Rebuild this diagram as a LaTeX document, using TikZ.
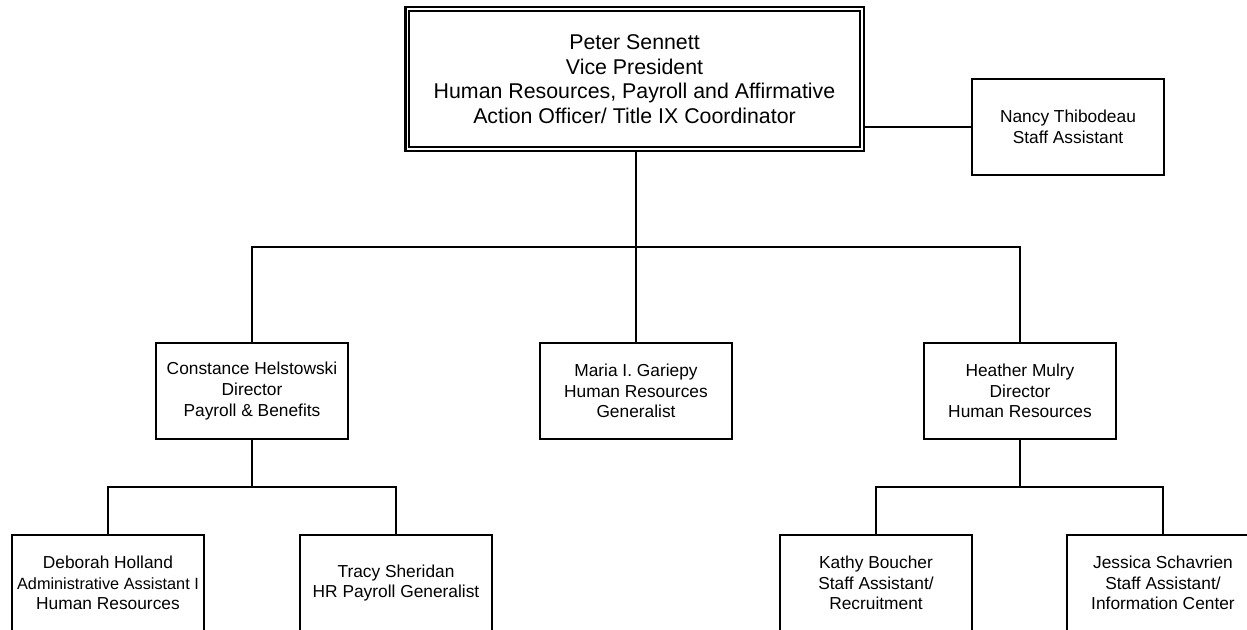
\documentclass[tikz,border=0pt]{standalone}
\usepackage{fontspec}
\setmainfont{Liberation Sans}
\begin{document}
\begin{tikzpicture}[x=0.75pt,y=-0.75pt,
  box/.style={draw=black,line width=1.5pt,rectangle,inner sep=0pt,
    minimum width=144pt,minimum height=72pt,align=center,
    font={\fontsize{13}{15.4}\selectfont}},
  topbox/.style={draw=black,line width=2pt,rectangle,inner sep=0pt,
    minimum width=344pt,minimum height=108pt,align=center,
    font={\fontsize{16}{18.4}\selectfont}},
  link/.style={draw=black,line width=1.5pt}]
\useasboundingbox (0,0) rectangle (1247,629);
\clip (0,0) rectangle (1247,629);
\fill[white] (0,0) rectangle (1247,629);

\node[topbox] (vp) at (634.5,79) {Peter Sennett\\Vice President\\Human Resources, Payroll and Affirmative\\Action Officer/ Title IX Coordinator};
\draw[line width=1.5pt] ([shift={(5,5)}]vp.north west) rectangle ([shift={(-5,-5)}]vp.south east);

\node[box] (nancy) at (1068,127) {Nancy Thibodeau\\Staff Assistant};
\node[box] (const) at (252,391) {Constance Helstowski\\Director\\Payroll \& Benefits};
\node[box] (maria) at (636,391) {Maria I. Gariepy\\Human Resources\\Generalist};
\node[box] (heather) at (1020,391) {Heather Mulry\\Director\\Human Resources};
\node[box] (deb) at (108,583) {Deborah Holland\\{\fontsize{12.2}{15}\selectfont Administrative Assistant I}\\Human Resources};
\node[box] (tracy) at (396,583) {Tracy Sheridan\\HR Payroll Generalist};
\node[box] (kathy) at (876,583) {Kathy Boucher\\Staff Assistant/\\Recruitment};
\node[box] (jess) at (1163,583) {Jessica Schavrien\\Staff Assistant/\\Information Center};

\coordinate (bus1) at (636,247);
\coordinate (bus2) at (252,487);
\coordinate (bus3) at (1020,487);

\draw[link] (nancy.west) -- (nancy.west -| vp.east);
\draw[link] (vp.south -| maria.north) -- (maria.north);
\draw[link] (const.north) |- (bus1) -| (heather.north);
\draw[link] (const.south) -- (bus2);
\draw[link] (deb.north) |- (bus2) -| (tracy.north);
\draw[link] (heather.south) -- (bus3);
\draw[link] (kathy.north) |- (bus3) -| (jess.north);
\end{tikzpicture}
\end{document}
